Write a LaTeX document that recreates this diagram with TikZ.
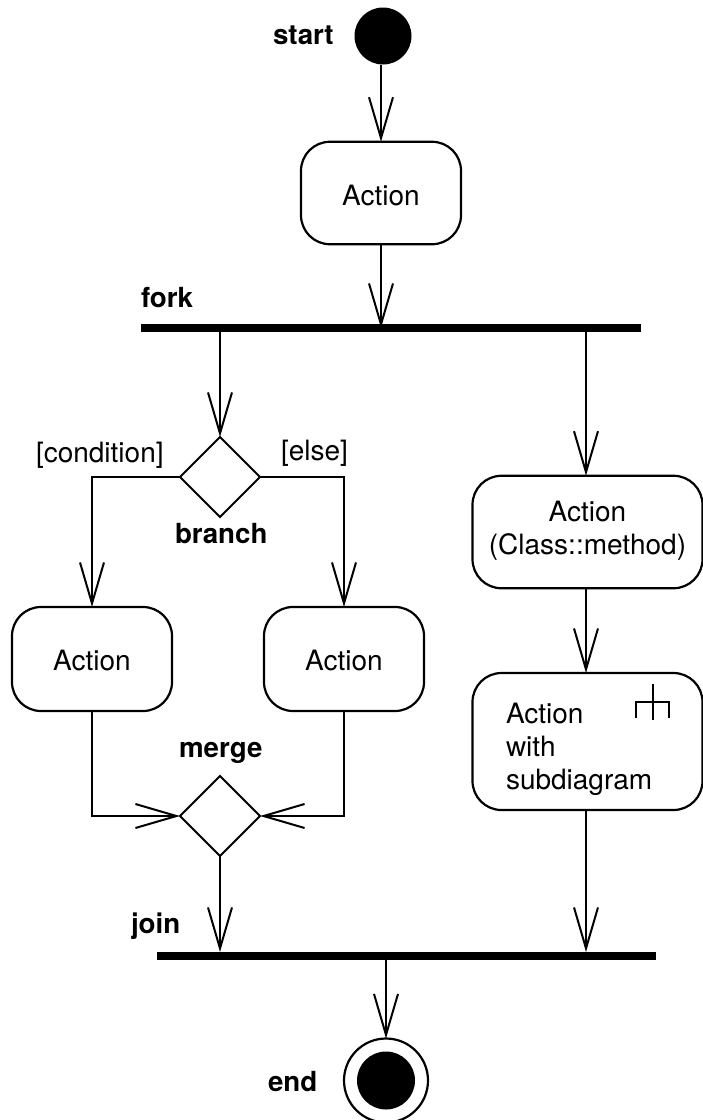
\documentclass[tikz,border=0pt]{standalone}
\usepackage{fontspec}
\setmainfont{TeX Gyre Heros}
\usetikzlibrary{arrows.meta,shapes.geometric}
\tikzset{
  every node/.style={font=\fontsize{28pt}{33pt}\selectfont, inner sep=0pt, outer sep=0pt},
  flow/.style={draw=black, line width=2pt, -{Straight Barb[length=41pt,width=24pt,line width=2pt]}},
  plain/.style={draw=black, line width=2pt},
  actbox/.style={draw=black, line width=2.2pt, rounded corners=29pt, align=center},
  decision/.style={diamond, aspect=1, draw=black, line width=2pt, minimum width=80pt, minimum height=80pt},
  bar/.style={rectangle, fill=black, minimum height=8pt},
  dot/.style={circle, fill=black},
  lbl/.style={anchor=base west},
  blbl/.style={anchor=base west, font=\fontsize{27.7pt}{33pt}\selectfont\bfseries},
}
\begin{document}
\begin{tikzpicture}[x=1pt,y=-1pt]
\useasboundingbox (0,0) rectangle (703,1120);
\node[dot, minimum size=57pt] (start) at (383,36) {};
\node[actbox, minimum width=160pt, minimum height=102.5pt] (act1) at (381,193) {\rule{0pt}{25.6pt}Action};
\node[bar, minimum width=500pt] (fork) at (391,328) {};
\node[decision] (branch) at (220,477) {};
\node[actbox, minimum width=160pt, minimum height=104pt] (act2) at (92,659) {\rule{0pt}{24pt}Action};
\node[actbox, minimum width=160pt, minimum height=104pt] (act3) at (344,659) {\rule{0pt}{24pt}Action};
\node[decision] (merge) at (220,816) {};
\node[actbox, minimum width=230pt, minimum height=112.5pt] (act4) at (587.5,532) {Action\\(Class::method)\rule[-9pt]{0pt}{9pt}};
\node[actbox, minimum width=230pt, minimum height=137pt, text width=163pt, align=left] (act5) at (587.5,741.5) {\rule{0pt}{37pt}Action\\with\\subdiagram};
\node[bar, minimum width=499pt] (join) at (406.5,956) {};
\node[circle, draw=black, line width=2.2pt, minimum size=84pt] (end) at (386,1080.5) {};
\node[dot, minimum size=58pt] (endin) at (386,1080.5) {};

\path[flow] (act1.north |- start.south) -- (act1.north);
\path[flow] (act1.south) -- (act1.south |- fork.center);
\path[flow] (branch.north |- fork.south) -- (branch.north);
\path[flow] ([xshift=-1.5pt]act4.north |- fork.south) -- ([xshift=-1.5pt]act4.north);
\path[flow] (branch.west) -| (act2.north);
\path[flow] (branch.east) -| (act3.north);
\path[flow] (act2.south) |- (merge.west);
\path[flow] (act3.south) |- (merge.east);
\path[flow] ([xshift=-1.5pt]act4.south) -- ([xshift=-1.5pt]act5.north);
\path[flow] (merge.south) -- (merge.south |- join.north);
\path[flow] ([xshift=-1.5pt]act5.south) -- ([xshift=-1.5pt]act5.south |- join.north);
\path[flow] (end.north |- join.south) -- (end.north);

\draw[plain] (636,718) -- (636,702) -- (669,702) -- (669,718);
\draw[plain] (652.5,684) -- (652.5,720);

\node[blbl] (lstart) at (273,44) {start};
\node[blbl] (lfork) at (141,307) {fork};
\node[lbl] (lcond) at (36,462.5) {[condition]};
\node[lbl] (lelse) at (281,460) {[else]};
\node[blbl] (lbranch) at (175,543) {branch};
\node[blbl] (lmerge) at (179,757) {merge};
\node[blbl] (ljoin) at (131,933) {join};
\node[blbl] (lend) at (268,1091) {end};
\end{tikzpicture}
\end{document}
